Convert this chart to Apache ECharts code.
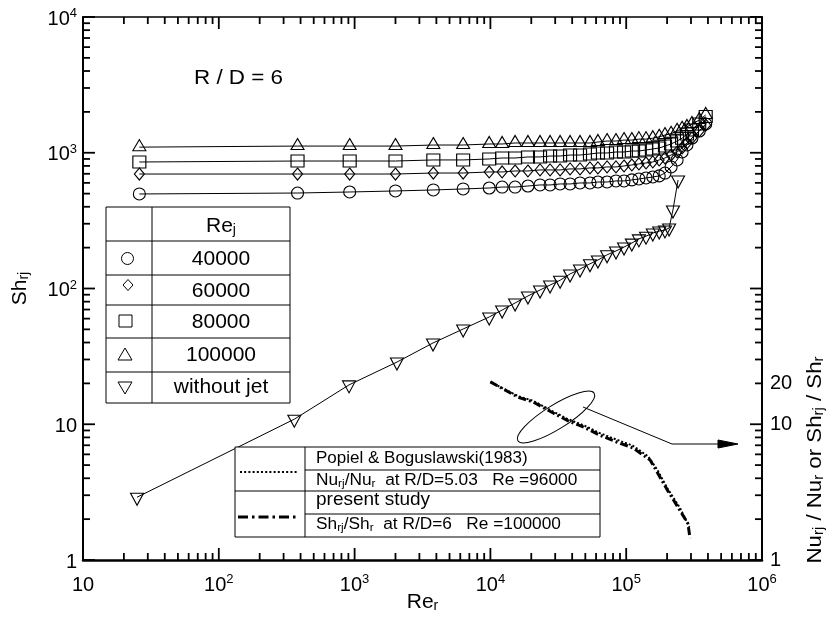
<!DOCTYPE html>
<html>
<head>
<meta charset="utf-8">
<script src="https://cdn.jsdelivr.net/npm/echarts@6/dist/echarts.min.js"></script>
<style>html,body{margin:0;padding:0;background:#fff}#c{width:830px;height:620px}</style>
</head>
<body>
<div id="c"></div>
<script>
const FONT = '"Liberation Sans", Arial, Helvetica, sans-serif';

// ---- data ----
const reR = [26, 380, 920, 2000, 3800, 6300, 9800, 12200, 15200, 18900, 23200, 27500, 32600, 38600, 45700, 54100, 61900, 72300, 84100, 96400, 110000, 124000, 140000, 157000, 175000, 193000, 214000, 237000, 258000, 280000, 305000, 345000, 385000];
const sh100000 = [1100, 1120, 1120, 1120, 1140, 1140, 1160, 1160, 1180, 1180, 1180, 1180, 1180, 1180, 1180, 1180, 1200, 1220, 1220, 1240, 1240, 1260, 1260, 1280, 1310, 1350, 1380, 1450, 1500, 1550, 1630, 1740, 1900];
const sh80000 = [855, 869, 869, 869, 885, 885, 900, 915, 915, 931, 931, 946, 946, 962, 962, 979, 996, 996, 1013, 1013, 1030, 1030, 1048, 1066, 1084, 1120, 1160, 1220, 1280, 1375, 1470, 1630, 1850];
const sh60000 = [697, 697, 697, 697, 709, 709, 722, 722, 734, 734, 747, 747, 747, 760, 760, 773, 773, 786, 786, 799, 813, 827, 841, 856, 885, 915, 962, 1013, 1084, 1180, 1284, 1446, 1600];
const sh40000 = [497, 505, 514, 523, 532, 541, 550, 559, 559, 569, 579, 579, 589, 589, 599, 599, 609, 609, 620, 620, 631, 641, 652, 663, 675, 709, 786, 885, 1013, 1141, 1284, 1446, 1630];
const reNoJet = [25, 360, 910, 2050, 3780, 6300, 9800, 12200, 15200, 18900, 23200, 27500, 32600, 38600, 45700, 54100, 61900, 72300, 84100, 96400, 110000, 124000, 140000, 157000, 175000, 193000, 207000, 221000, 241000];
const shNoJet = [2.9, 10.9, 19.5, 28.7, 39.7, 50.3, 61.7, 69.4, 78.2, 88.1, 97.5, 106, 115, 128, 139, 152, 162, 177, 189, 202, 216, 232, 243, 256, 265, 270, 279, 379, 630];
const rePresent = [10000, 16000, 20600, 29000, 36600, 50000, 64000, 85000, 112000, 150000, 170000, 200000, 250000, 285000, 295000];
const ratioPresent = [20.5, 15.8, 14.6, 12.1, 10.7, 9.4, 8.3, 7.4, 6.7, 5.45, 4.4, 3.3, 2.3, 1.85, 1.45];
const rePopiel = [10000, 16000, 20600, 29000, 36600, 50000, 64000, 85000, 112000, 145000, 170000, 200000, 250000, 292000];
const ratioPopiel = [20.5, 16.1, 14.9, 12.4, 11.0, 9.7, 8.6, 7.7, 6.95, 5.8, 4.6, 3.4, 2.4, 1.75];

// ---- ticks / labels ----
const xMin = 10, xMax = 1e6, yMin = 1, yMax = 1e4;
const minorMultipliers = [2, 3, 4, 5, 6, 7, 8, 9];
const xDecades = [10, 100, 1000, 10000, 100000];
const yDecades = [1, 10, 100, 1000];
const xMajor = [10, 100, 1000, 10000, 100000, 1000000];
const yMajor = [1, 10, 100, 1000, 10000];
const rightLabels = ['1', '10', '20'];
const legendLabels = ['40000', '60000', '80000', '100000', 'without jet'];

const minorX = [];
xDecades.forEach(d => minorMultipliers.forEach(m => minorX.push(d * m)));
const minorY = [];
yDecades.forEach(d => minorMultipliers.forEach(m => minorY.push(d * m)));

const tickRich = {
  b: {fontSize: 20, fontFamily: FONT, color: '#000', lineHeight: 24, verticalAlign: 'bottom'},
  sup: {fontSize: 13, fontFamily: FONT, color: '#000', lineHeight: 13, padding: [0, 0, 9, 0], verticalAlign: 'bottom'}
};
function powLabel(v) {
  const e = Math.round(Math.log10(v));
  if (e === 0) return '{b|1}';
  if (e === 1) return '{b|10}';
  return '{b|10}{sup|' + e + '}';
}
const nameRich = {
  b: {fontSize: 21, fontFamily: FONT, color: '#000', lineHeight: 22, verticalAlign: 'bottom'},
  s: {fontSize: 14, fontFamily: FONT, color: '#000', lineHeight: 14, padding: [10, 0, 0, 0], verticalAlign: 'bottom'}
};

const pairs = (xs, ys) => xs.map((x, i) => [x, ys[i]]);

const axisLine = w => ({show: true, onZero: false, lineStyle: {color: '#000', width: w}});

function markerSeries(name, data, symbol, size, extra) {
  return Object.assign({
    name: name, type: 'line', xAxisIndex: 0, yAxisIndex: 0, data: data,
    symbol: symbol, symbolSize: size, showAllSymbol: true,
    lineStyle: {color: '#000', width: 1},
    itemStyle: {color: 'rgba(0,0,0,0)', borderColor: '#000', borderWidth: 1.1},
    emphasis: {disabled: true}, silent: true, z: 3
  }, extra || {});
}

// ---- graphic annotations ----
const G = [];
const st = () => ({stroke: '#000', lineWidth: 1, fill: 'none'});
function hline(x1, x2, y) { G.push({type: 'line', shape: {x1: x1, y1: y, x2: x2, y2: y}, style: st(), z: 20}); }
function vline(x, y1, y2) { G.push({type: 'line', shape: {x1: x, y1: y1, x2: x, y2: y2}, style: st(), z: 20}); }
function txt(x, y, text, size, align, rich, extra) {
  G.push(Object.assign({type: 'text', x: x, y: y, z: 21,
    style: {text: text, fill: '#000', font: size + 'px ' + FONT, fontSize: size, fontFamily: FONT,
      align: align || 'center', textAlign: align || 'center', verticalAlign: 'middle', textVerticalAlign: 'middle', rich: rich}}, extra || {}));
}
// table 1
G.push({type: 'rect', shape: {x: 106, y: 207, width: 184, height: 196}, style: {fill: '#fff', stroke: '#000', lineWidth: 1}, z: 19});
vline(152, 207, 403);
[241, 275, 305, 338, 372].forEach(y => hline(106, 290, y));
const legRich = {
  b: {fontSize: 21, fontFamily: FONT, color: '#000', lineHeight: 22, verticalAlign: 'bottom'},
  s: {fontSize: 14, fontFamily: FONT, color: '#000', lineHeight: 14, padding: [10, 0, 0, 0], verticalAlign: 'bottom'}
};
txt(221, 226, '{b|Re}{s|j}', 21, 'center', legRich);
const rowY = [259, 291, 322, 355, 387];
legendLabels.forEach((t, i) => txt(221, rowY[i], t, 21, 'center'));
G.push({type: 'circle', shape: {cx: 127.5, cy: 258.5, r: 6}, style: st(), z: 21});
G.push({type: 'polygon', shape: {points: [[128, 279.5], [133, 285], [128, 290.5], [123, 285]]}, style: st(), z: 21});
G.push({type: 'rect', shape: {x: 119, y: 315, width: 13, height: 12}, style: st(), z: 21});
G.push({type: 'polygon', shape: {points: [[125, 348], [132, 360], [118, 360]]}, style: st(), z: 21});
G.push({type: 'polygon', shape: {points: [[118, 382], [132, 382], [125, 394]]}, style: st(), z: 21});
// table 2
G.push({type: 'rect', shape: {x: 235, y: 447, width: 365, height: 90}, style: {fill: '#fff', stroke: '#000', lineWidth: 1}, z: 19});
vline(305, 447, 537);
hline(305, 600, 470);
hline(235, 600, 491);
hline(305, 600, 514);
G.push({type: 'line', shape: {x1: 240, y1: 472, x2: 297, y2: 472}, style: {stroke: '#000', lineWidth: 2, lineDash: [2, 2.2]}, z: 21});
G.push({type: 'line', shape: {x1: 238, y1: 517, x2: 297, y2: 517}, style: {stroke: '#000', lineWidth: 3, lineDash: [10, 4, 2.5, 4]}, z: 21});
const t2Rich = {
  a: {fontSize: 16, fontFamily: FONT, color: '#000', lineHeight: 18, verticalAlign: 'bottom'},
  s: {fontSize: 11, fontFamily: FONT, color: '#000', lineHeight: 11, padding: [8, 0, 0, 0], verticalAlign: 'bottom'}
};
txt(316, 458, 'Popiel & Boguslawski(1983)', 17, 'left');
txt(316, 480, '{a|Nu}{s|rj}{a|/Nu}{s|r}{a|  at R/D=5.03   Re =96000}', 16, 'left', t2Rich, {scaleX: 1.08});
txt(316, 500, 'present study', 19, 'left');
txt(316, 524, '{a|Sh}{s|rj}{a|/Sh}{s|r}{a|  at R/D=6   Re =100000}', 16, 'left', t2Rich, {scaleX: 1.08});
// R/D label
txt(194, 78, 'R / D = 6', 20, 'left', null, {scaleX: 1.12});
// ellipse + arrow
G.push({type: 'ellipse', x: 556, y: 417, rotation: 32 * Math.PI / 180, shape: {cx: 0, cy: 0, rx: 45, ry: 12}, style: st(), z: 21});
G.push({type: 'polyline', shape: {points: [[583, 407], [672, 444], [722, 444]]}, style: st(), z: 21});
G.push({type: 'polygon', shape: {points: [[718, 440], [738, 444], [718, 448]]}, style: {fill: '#000', stroke: '#000', lineWidth: 1}, z: 21});
// right title
const rtRich = {
  b: {fontSize: 21, fontFamily: FONT, color: '#000', lineHeight: 22, verticalAlign: 'bottom'},
  s: {fontSize: 14, fontFamily: FONT, color: '#000', lineHeight: 14, padding: [10, 0, 0, 0], verticalAlign: 'bottom'}
};
txt(815, 460, '{b|Nu}{s|rj}{b| / Nu}{s|r}{b| or Sh}{s|rj}{b| / Sh}{s|r}', 21, 'center', rtRich, {rotation: Math.PI / 2, scaleX: 1.06});

const option = {
  animation: false,
  backgroundColor: '#fff',
  grid: {left: 83, right: 68, top: 17, bottom: 60, containLabel: false, outerBoundsMode: 'none'},
  xAxis: [
    {type: 'log', logBase: 10, min: xMin, max: xMax, position: 'bottom',
     axisLine: axisLine(2.5), axisTick: {show: false}, splitLine: {show: false},
     axisLabel: {show: true, margin: 11, formatter: powLabel, rich: tickRich},
     name: '{b|Re}{s|r}', nameLocation: 'middle', nameGap: 31, nameMoveOverlap: false, nameTextStyle: {rich: nameRich}},
    {type: 'log', logBase: 10, min: xMin, max: xMax, position: 'top',
     axisLine: axisLine(1.5), axisTick: {show: false}, splitLine: {show: false}, axisLabel: {show: false}}
  ],
  yAxis: [
    {type: 'log', logBase: 10, min: yMin, max: yMax, position: 'left',
     axisLine: axisLine(2), axisTick: {show: false}, splitLine: {show: false},
     axisLabel: {show: true, margin: 6, formatter: powLabel, rich: tickRich},
     name: '{b|Sh}{s|rj}', nameLocation: 'middle', nameRotate: 90, nameGap: 52, nameMoveOverlap: false, nameTextStyle: {rich: nameRich}},
    {type: 'log', logBase: 10, min: yMin, max: yMax, position: 'right',
     axisLine: axisLine(2), axisTick: {show: false}, splitLine: {show: false},
     axisLabel: {show: true, margin: 8, color: '#000', fontSize: 20, fontFamily: FONT,
       formatter: v => { const s = String(Math.round(v)); return rightLabels.indexOf(s) >= 0 ? s : ''; }}}
  ],
  graphic: G,
  series: [
    markerSeries('40000', pairs(reR, sh40000), 'circle', 12),
    markerSeries('60000', pairs(reR, sh60000), 'diamond', [10, 12]),
    markerSeries('80000', pairs(reR, sh80000), 'rect', [13, 12]),
    markerSeries('100000', pairs(reR, sh100000), 'triangle', [13, 11], {symbolOffset: [0, -2]}),
    markerSeries('without jet', pairs(reNoJet, shNoJet), 'triangle', [13, 12], {symbolRotate: 180, symbolOffset: [0, 2]}),
    {name: 'Popiel & Boguslawski(1983)', type: 'line', xAxisIndex: 0, yAxisIndex: 1, data: pairs(rePopiel, ratioPopiel),
     symbol: 'none', lineStyle: {color: '#000', width: 2, type: [2, 2]}, silent: true, z: 4},
    {name: 'present study', type: 'line', xAxisIndex: 0, yAxisIndex: 1, data: pairs(rePresent, ratioPresent),
     symbol: 'none', lineStyle: {color: '#000', width: 3, type: [8, 3, 2, 3]}, silent: true, z: 4},
    {type: 'custom', xAxisIndex: 0, yAxisIndex: 0, silent: true, clip: false, z: 10, data: [[100, 100]],
     renderItem: function (params, api) {
       const pBL = api.coord([xMin, yMin]);
       const pTR = api.coord([xMax, yMax]);
       const L = pBL[0], B = pBL[1], R = pTR[0], T = pTR[1];
       const ch = [];
       const seg = (x1, y1, x2, y2, w) => ch.push({type: 'line', shape: {x1: x1, y1: y1, x2: x2, y2: y2},
         style: {stroke: '#000', lineWidth: w, fill: null}});
       minorX.forEach(v => { const x = api.coord([v, yMin])[0]; seg(x, B, x, B - 7, 1.8); seg(x, T, x, T + 7, 1.8); });
       xMajor.forEach(v => { const x = api.coord([v, yMin])[0]; seg(x, B, x, B - 12, 1.8); seg(x, T, x, T + 12, 1.8); });
       minorY.forEach(v => { const y = api.coord([xMin, v])[1]; seg(L, y, L + 7, y, 1.8); seg(R, y, R - 7, y, 1.8); });
       yMajor.forEach(v => { const y = api.coord([xMin, v])[1]; seg(L, y, L + 12, y, 1.8); seg(R, y, R - 12, y, 1.8); });
       const y20 = api.coord([xMin, Number(rightLabels[2])])[1];
       ch.push({type: 'text', x: R + 8, y: y20, style: {text: rightLabels[2], fill: '#000', font: '20px ' + FONT,
         align: 'left', textAlign: 'left', verticalAlign: 'middle', textVerticalAlign: 'middle'}});
       return {type: 'group', children: ch};
     }}
  ]
};
const chart = echarts.init(document.getElementById('c'), null, {renderer: 'canvas'});
chart.setOption(option);
</script>
</body>
</html>
